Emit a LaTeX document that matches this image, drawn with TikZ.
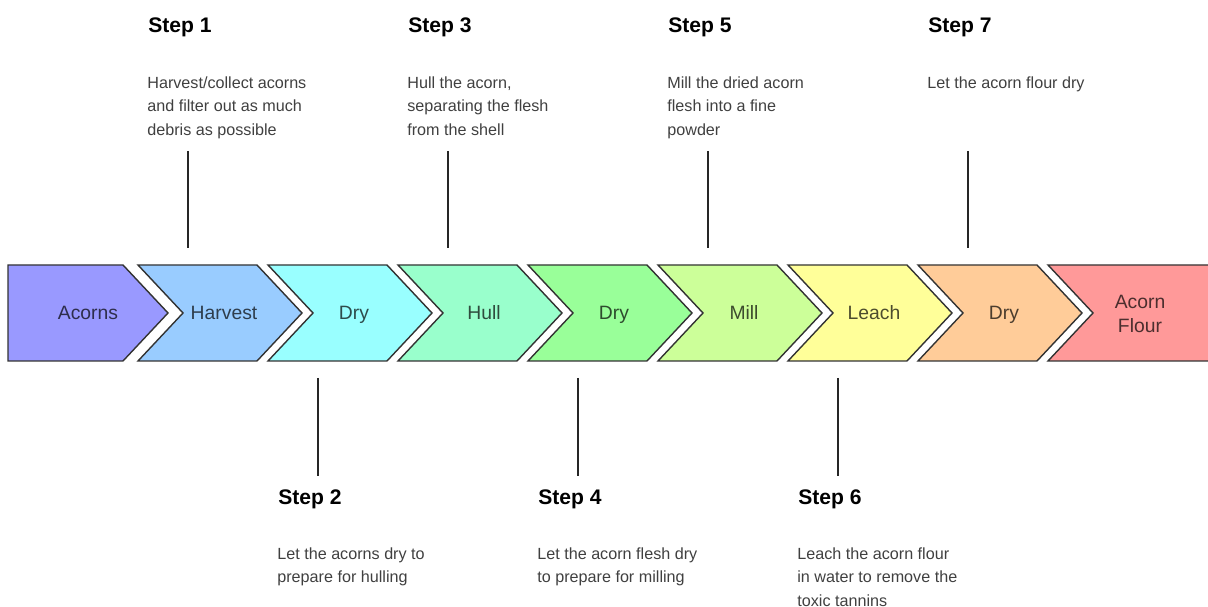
\documentclass[tikz,border=0pt]{standalone}
\usepackage{fontspec}
\setmainfont{Liberation Sans}

% box colours
\definecolor{cAcorns}{HTML}{9999FF}
\definecolor{cHarvest}{HTML}{99CCFF}
\definecolor{cDryA}{HTML}{99FFFF}
\definecolor{cHull}{HTML}{99FFCC}
\definecolor{cDryB}{HTML}{99FF99}
\definecolor{cMill}{HTML}{CCFF99}
\definecolor{cLeach}{HTML}{FFFF99}
\definecolor{cDryC}{HTML}{FFCC99}
\definecolor{cFlour}{HTML}{FF9999}

\begin{document}
\begin{tikzpicture}[x=0.02cm,y=-0.02cm,
    chev/.style={draw=black!80,line width=0.8pt,line join=miter},
    lbl/.style={font=\fontsize{11}{13}\selectfont,text height=0.72em,text depth=0.21em},
    head/.style={anchor=west,inner sep=0pt,font=\fontsize{12}{14}\selectfont\bfseries},
    desc/.style={anchor=north west,inner sep=0pt,align=left,text=black!75,
        font=\fontsize{9.2}{13.4}\selectfont},
    tick/.style={draw=black!85,line width=0.8pt}]

    \clip (0,0) rectangle (1208,607);

    % first box
    \filldraw[chev,fill=cAcorns] (8,265) -- (123,265) -- (168,313) -- (123,361) -- (8,361) -- cycle;
    \node[lbl,text=cAcorns!30!black] (acorns) at (88,315) {Acorns};

    % chevrons
    \foreach \k/\name/\txt/\col in {1/harvest/Harvest/cHarvest, 2/dryA/Dry/cDryA,
        3/hull/Hull/cHull, 4/dryB/Dry/cDryB, 5/mill/Mill/cMill,
        6/leach/Leach/cLeach, 7/dryC/Dry/cDryC} {
        \pgfmathsetmacro\L{8+130*\k}
        \filldraw[chev,fill=\col] (\L,265) -- ++(119,0) -- ++(45,48) -- ++(-45,48)
            -- ++(-119,0) -- ++(45,-48) -- cycle;
        \node[lbl,text=\col!30!black] (\name) at (\L+86,315) {\txt};
    }

    % last box
    \filldraw[chev,fill=cFlour] (1048,265) -- (1215,265) -- (1215,361) -- (1048,361) -- (1093,313) -- cycle;
    \node[align=center,text=cFlour!30!black,font=\fontsize{11}{13.2}\selectfont] (flour) at (1140,314) {Acorn\\Flour};

    % steps above
    \foreach \k/\txt in {1/{Harvest/collect acorns\\and filter out as much\\debris as possible},
        3/{Hull the acorn,\\separating the flesh\\from the shell},
        5/{Mill the dried acorn\\flesh into a fine\\powder},
        7/{Let the acorn flour dry}} {
        \pgfmathsetmacro\L{8+130*\k}
        \node[head] (s\k) at (\L+10,27) {Step \k};
        \node[desc] (d\k) at (\L+9,76) {\txt};
        \coordinate (a\k) at (\L+50,151);
        \coordinate (b\k) at (\L+50,248);
        \draw[tick] (a\k) -- (b\k);
    }

    % steps below
    \foreach \k/\txt in {2/{Let the acorns dry to\\prepare for hulling},
        4/{Let the acorn flesh dry\\to prepare for milling},
        6/{Leach the acorn flour\\in water to remove the\\toxic tannins}} {
        \pgfmathsetmacro\L{8+130*\k}
        \coordinate (a\k) at (\L+50,378);
        \coordinate (b\k) at (\L+50,476);
        \draw[tick] (a\k) -- (b\k);
        \node[head] (s\k) at (\L+10,499) {Step \k};
        \node[desc] (d\k) at (\L+9,547) {\txt};
    }
\end{tikzpicture}
\end{document}
